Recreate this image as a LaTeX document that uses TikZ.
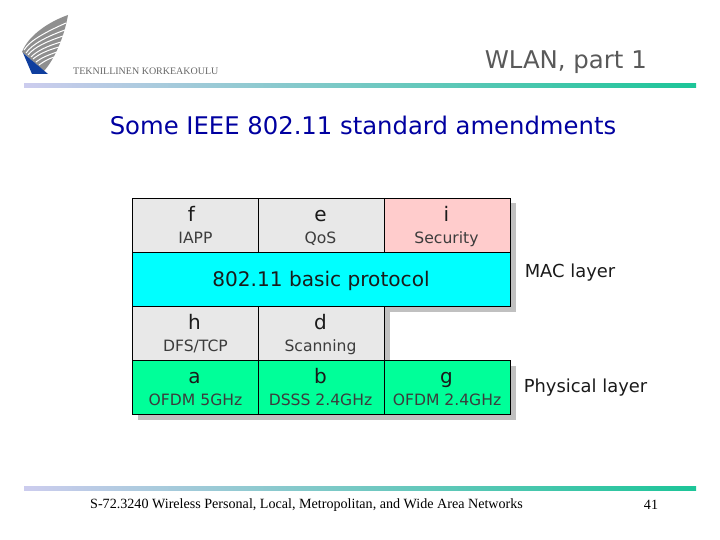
\documentclass[tikz,border=0pt]{standalone}
\usepackage{fontspec}
\setmainfont{DejaVu Sans}
\newfontfamily\footfont{Liberation Serif}
\definecolor{cellgray}{HTML}{E8E8E8}
\definecolor{cellpink}{HTML}{FFCCCC}
\definecolor{cellcyan}{HTML}{00FFFF}
\definecolor{cellgreen}{HTML}{00FF99}
\definecolor{shadowgray}{HTML}{C0C0C0}
\definecolor{barleft}{HTML}{CCCCEE}
\definecolor{barright}{HTML}{1CC598}
\definecolor{logoblue}{HTML}{0F3E9E}
\definecolor{logogray}{HTML}{8F8F8F}
\definecolor{inktext}{HTML}{1A1A1A}
\definecolor{titleblue}{HTML}{0000A0}
\tikzset{
  cell/.style={draw=black,line width=0.7pt,minimum width=126pt,minimum height=54pt,inner sep=0pt,anchor=north west},
  shade/.style={fill=shadowgray,draw=none},
  letter/.style={font=\fontsize{20pt}{20pt}\selectfont,text=inktext,anchor=base,inner sep=0pt},
  sub/.style={font=\fontsize{15.6pt}{16pt}\selectfont,text=inktext!85,anchor=base,inner sep=0pt},
  side/.style={font=\fontsize{17.9pt}{18pt}\selectfont,text=inktext,anchor=center,inner sep=0pt},
  bar/.style={left color=barleft,right color=barright,draw=none},
  logoline/.style={draw=white,line width=1pt},
}
\begin{document}
\begin{tikzpicture}[x=1pt,y=-1pt]
\useasboundingbox (0,0) rectangle (720,540);
% logo
\fill[logogray] (68,15) .. controls (48,22) and (28,36) .. (22,52) -- (44,71) .. controls (54,60) and (64,38) .. (68,15) -- cycle;
\draw[logoline] (24,50) .. controls (30,40) and (48,31) .. (66,23);
\draw[logoline] (26,53) .. controls (32,44) and (48,36) .. (65,30);
\draw[logoline] (28,55) .. controls (34,47) and (48,41) .. (63,36);
\draw[logoline] (31,57) .. controls (37,51) and (47,46) .. (61,42);
\draw[logoline] (33,59) .. controls (39,54) and (48,50) .. (59,47);
\draw[logoline] (36,62) .. controls (41,58) and (48,55) .. (57,52);
\draw[logoline] (39,65) .. controls (43,62) and (48,59) .. (54,57);
\fill[logoblue] (23,53) -- (48,74) -- (32,74) -- cycle;
\node[inner sep=0pt,anchor=west,text=black!60,font=\footfont\fontsize{10pt}{11pt}\selectfont] (logotext) at (73,71.5) {TEKNILLINEN KORKEAKOULU};
% header
\node[inner sep=0pt,anchor=east,text=black!65,font=\fontsize{24.4pt}{25pt}\selectfont] (head) at (647,62) {WLAN, part 1};
\fill[bar] (24,84) rectangle (696,88);
\node[inner sep=0pt,text=titleblue,font=\fontsize{24.3pt}{25pt}\selectfont] (title) at (363,125.5) {Some IEEE 802.11 standard amendments};
% shadows
\fill[shade] (137.5,203.5) rectangle (516,311.5);
\fill[shade] (137.5,311.5) rectangle (390,365.5);
\fill[shade] (137.5,365.5) rectangle (516,419.5);
% cells
\node[cell,fill=cellgray] (cf) at (132,198) {};
\node[cell,fill=cellgray] (ce) at (258,198) {};
\node[cell,fill=cellpink] (ci) at (384,198) {};
\node[cell,fill=cellcyan,minimum width=378pt] (cbase) at (132,252) {};
\node[cell,fill=cellgray] (ch) at (132,306) {};
\node[cell,fill=cellgray] (cd) at (258,306) {};
\node[cell,fill=cellgreen] (ca) at (132,360) {};
\node[cell,fill=cellgreen] (cb) at (258,360) {};
\node[cell,fill=cellgreen] (cg) at (384,360) {};
% cell texts
\node[letter] (lf) at (191.5,221.5) {f};
\node[sub] (sf) at (195.5,243.5) {IAPP};
\node[letter] (le) at (320.5,221.5) {e};
\node[sub] (se) at (320.5,243.5) {QoS};
\node[letter] (li) at (446.5,221.5) {i};
\node[sub] (si) at (446.5,243.5) {Security};
\node[inner sep=0pt,text=inktext,font=\fontsize{20.1pt}{20pt}\selectfont] (basic) at (321,280.5) {802.11 basic protocol};
\node[letter] (lh) at (194.5,329.5) {h};
\node[sub] (sh) at (195.5,351.5) {DFS/TCP};
\node[letter] (ld) at (320.5,329.5) {d};
\node[sub] (sd) at (320.5,351.5) {Scanning};
\node[letter] (la) at (194.5,383.5) {a};
\node[sub] (sa) at (195.5,405.5) {OFDM 5GHz};
\node[letter] (lb) at (320.5,383.5) {b};
\node[sub] (sb) at (320.5,405.5) {DSSS 2.4GHz};
\node[letter] (lg) at (446.5,383.5) {g};
\node[sub] (sg) at (447,405.5) {OFDM 2.4GHz};
% side labels
\node[side] (mac) at (570,273) {MAC layer};
\node[side] (phy) at (585.5,387.5) {Physical layer};
% footer
\fill[bar] (24,486) rectangle (696,490);
\node[inner sep=0pt,anchor=west,text=black,font=\footfont\fontsize{14.1pt}{15pt}\selectfont] (foot) at (90,505) {S-72.3240 Wireless Personal, Local, Metropolitan, and Wide Area Networks};
\node[inner sep=0pt,text=black,font=\footfont\fontsize{14.1pt}{15pt}\selectfont] (page) at (651,505) {41};
\end{tikzpicture}
\end{document}
